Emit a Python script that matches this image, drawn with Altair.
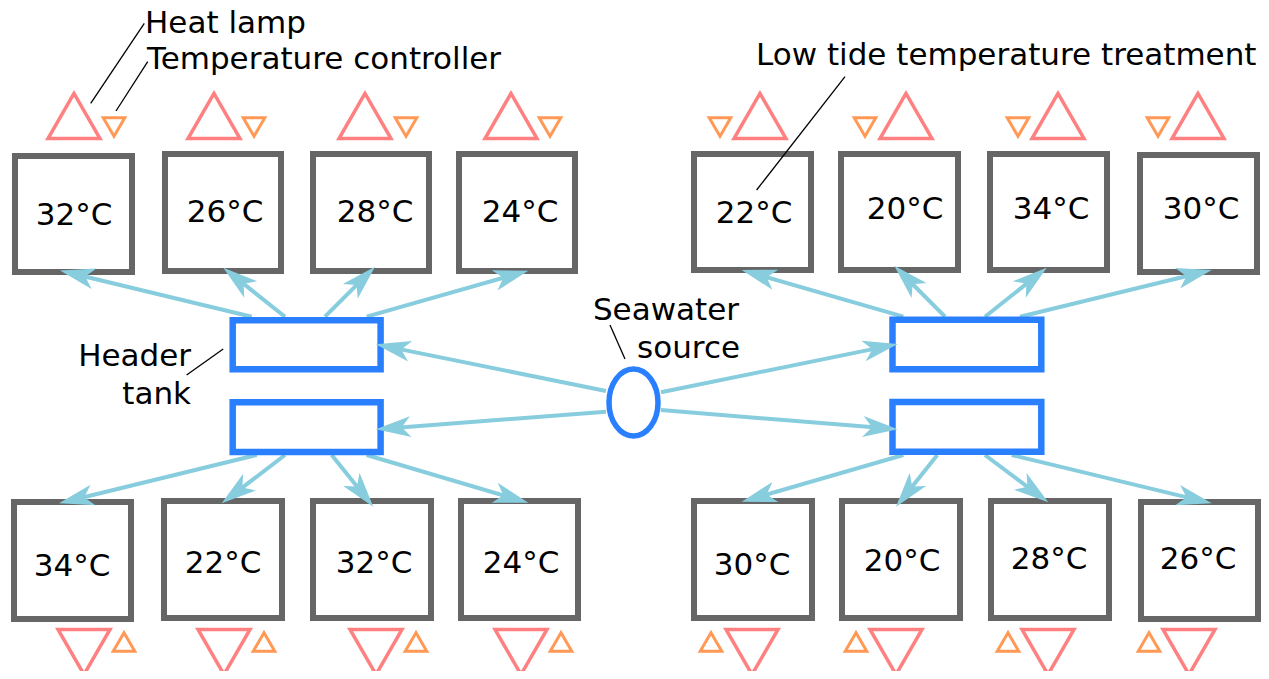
import altair as alt
import pandas as pd
import numpy as np

# ---------------- data (image pixel coordinates) ----------------
tank_labels = ["32°C", "26°C", "28°C", "24°C", "22°C", "20°C", "34°C", "30°C",
               "34°C", "22°C", "32°C", "24°C", "30°C", "20°C", "28°C", "26°C"]
tank_left = [15, 165, 313, 459, 694, 841, 990, 1140, 14, 164, 313, 461, 694, 842, 991, 1141]
tank_right = [132, 281, 429, 575, 811, 958, 1107, 1257, 131, 282, 431, 578, 812, 960, 1109, 1258]
tank_top = [156, 154, 154, 154, 154, 154, 154, 155, 502, 501, 501, 501, 501, 501, 501, 502]
tank_bottom = [272, 271, 271, 271, 270, 270, 270, 272, 619, 618, 618, 618, 618, 618, 618, 619]
label_x = [74, 225, 375, 520, 754, 905, 1051, 1201, 72, 223, 374, 521, 752, 902, 1049, 1198]
label_y = [225, 222, 222, 222, 223, 219, 219, 219, 576, 573, 573, 573, 575, 571, 569, 569]

lamp_x = [74, 214, 365, 511, 760, 906, 1058, 1198, 84, 224, 376, 521, 752, 896, 1048, 1189]
lamp_y = [116, 116, 116, 116, 116, 116, 116, 116, 652, 652, 652, 652, 652, 652, 652, 652]
ctrl_x = [114, 254, 406, 550, 720, 865, 1018, 1158, 124, 264, 416, 561, 711, 856, 1008, 1149]
ctrl_y = [127, 127, 127, 127, 127, 127, 127, 127, 642, 642, 642, 642, 642, 642, 642, 642]
row_side = ["top"] * 8 + ["bottom"] * 8

header_left = [232.7, 232.7, 892.5, 892.5]
header_right = [380.6, 380.6, 1041.3, 1041.3]
header_top = [320.3, 402.3, 319.7, 402.0]
header_bottom = [369.3, 452.0, 369.3, 451.7]

source_x = [633.5]
source_y = [402.5]

flow_x0 = [251.7, 285, 325, 366.7, 256.7, 285, 331.7, 366.7,
           903.3, 945, 985, 1020, 903.3, 937.3, 985, 1011.7,
           606, 606, 661, 661]
flow_y0 = [316.7] * 4 + [455] * 4 + [316.7] * 4 + [455] * 4 + [391, 411.7, 392.3, 410]
flow_x1 = [60, 223.3, 375, 528.3, 59, 221.7, 373.3, 528.3,
           741.7, 894.3, 1046.7, 1211.7, 741.7, 896, 1048.3, 1211.7,
           375.8, 375.8, 897.8, 897.8]
flow_y1 = [270.5, 267.7, 266.7, 270.7, 503.3, 503.3, 506.7, 502.7,
           270, 265.7, 267.7, 270, 501.7, 506.7, 502.3, 503.3,
           344.3, 429.3, 344, 429.3]

lead_x0 = [144.3, 147.7, 845, 223.2, 610]
lead_y0 = [23.3, 61.7, 76.7, 349, 325]
lead_x1 = [90.7, 116, 756.6, 186.6, 625]
lead_y1 = [103.3, 111, 190, 375, 359]

note_left_text = ["Heat lamp", "Temperature controller", "Low tide temperature treatment"]
note_left_x = [145, 147, 756]
note_left_y = [33, 69, 65]
note_right_text = ["Header", "tank", "Seawater", "source"]
note_right_x = [191, 191, 739, 740]
note_right_y = [366, 404, 320, 358]

# ---------------- styles ----------------
GRAY = "#666666"
BLUE = "#2a7fff"
LIGHT = "#87cdde"
LAMP = "#ff8080"
CTRL = "#ff9955"
FONT = "DejaVu Sans"
FS = 31

ARROW = "M 0 0 L -35 -10.5 L -26 0 L -35 10.5 Z"
ELLIPSE = "M -24.5 0 A 24.5 33.5 0 1 0 24.5 0 A 24.5 33.5 0 1 0 -24.5 0 Z"

xs = alt.Scale(domain=[8, 1261], nice=False, zero=False)
ys = alt.Scale(domain=[8, 671], nice=False, zero=False, reverse=True)


def X(f):
    return alt.X(f, type="quantitative", scale=xs, axis=None)


def Y(f):
    return alt.Y(f, type="quantitative", scale=ys, axis=None)


# ---------------- tables ----------------
tanks = pd.DataFrame({"l": tank_left, "r": tank_right, "t": tank_top, "b": tank_bottom,
                      "lab": tank_labels, "lx": label_x, "ly": label_y})

tri = pd.DataFrame({
    "x": lamp_x + ctrl_x,
    "y": lamp_y + ctrl_y,
    "shape": [("triangle-up" if s == "top" else "triangle-down") for s in row_side]
    + [("triangle-down" if s == "top" else "triangle-up") for s in row_side],
    "sz": [2704] * 16 + [466] * 16,
    "col": [LAMP] * 16 + [CTRL] * 16,
    "sw": [3.5] * 16 + [3.0] * 16,
})

heads = pd.DataFrame({"l": header_left, "r": header_right, "t": header_top, "b": header_bottom})

flows = pd.DataFrame({"x0": flow_x0, "y0": flow_y0, "x1": flow_x1, "y1": flow_y1})
dx = flows.x1 - flows.x0
dy = flows.y1 - flows.y0
ln = np.hypot(dx, dy)
flows["ex"] = flows.x1 - dx / ln * 18
flows["ey"] = flows.y1 - dy / ln * 18
flows["ang"] = np.degrees(np.arctan2(dy, dx)) % 360

leads = pd.DataFrame({"x0": lead_x0, "y0": lead_y0, "x1": lead_x1, "y1": lead_y1})
src = pd.DataFrame({"x": source_x, "y": source_y})
notes_l = pd.DataFrame({"x": note_left_x, "y": note_left_y, "t": note_left_text})
notes_r = pd.DataFrame({"x": note_right_x, "y": note_right_y, "t": note_right_text})

# ---------------- layers ----------------
tank_layer = alt.Chart(tanks).mark_rect(fill="white", stroke=GRAY, strokeWidth=6).encode(
    x=X("l"), x2="r", y=Y("t"), y2="b")

tank_text = alt.Chart(tanks).mark_text(font=FONT, fontSize=FS, align="center",
                                       baseline="alphabetic", color="black").encode(
    x=X("lx"), y=Y("ly"), text="lab:N")

flow_layer = alt.Chart(flows).mark_rule(stroke=LIGHT, strokeWidth=4).encode(
    x=X("x0"), y=Y("y0"), x2="ex", y2="ey")

head_layer = alt.Chart(heads).mark_rect(fill="white", stroke=BLUE, strokeWidth=6.5).encode(
    x=X("l"), x2="r", y=Y("t"), y2="b")

src_layer = alt.Chart(src).mark_point(shape=ELLIPSE, size=4, fill="white", stroke=BLUE,
                                      strokeWidth=5.5, opacity=1, fillOpacity=1,
                                      strokeOpacity=1).encode(x=X("x"), y=Y("y"))

arrow_layer = alt.Chart(flows).mark_point(shape=ARROW, size=4, filled=True, fill=LIGHT,
                                          strokeWidth=0, opacity=1).encode(
    x=X("x1"), y=Y("y1"), angle=alt.Angle("ang:Q", scale=None))

tri_layer = alt.Chart(tri).mark_point(filled=False, opacity=1, strokeJoin="miter").encode(
    x=X("x"), y=Y("y"),
    shape=alt.Shape("shape:N", scale=None),
    size=alt.Size("sz:Q", scale=None),
    stroke=alt.Stroke("col:N", scale=None),
    strokeWidth=alt.StrokeWidth("sw:Q", scale=None))

lead_layer = alt.Chart(leads).mark_rule(stroke="black", strokeWidth=1.3).encode(
    x=X("x0"), y=Y("y0"), x2="x1", y2="y1")

note_l_layer = alt.Chart(notes_l).mark_text(font=FONT, fontSize=FS, align="left",
                                            baseline="alphabetic", color="black").encode(
    x=X("x"), y=Y("y"), text="t:N")
note_r_layer = alt.Chart(notes_r).mark_text(font=FONT, fontSize=FS, align="right",
                                            baseline="alphabetic", color="black").encode(
    x=X("x"), y=Y("y"), text="t:N")

chart = alt.layer(
    tank_layer, flow_layer, head_layer, src_layer, arrow_layer, tri_layer,
    lead_layer, tank_text, note_l_layer, note_r_layer
).properties(
    width=1253, height=663, padding=0, autosize=alt.AutoSizeParams(type="none"),
    background="white"
).configure_view(stroke=None)

chart.save("out.html", embed_options={"renderer": "svg", "actions": False})
